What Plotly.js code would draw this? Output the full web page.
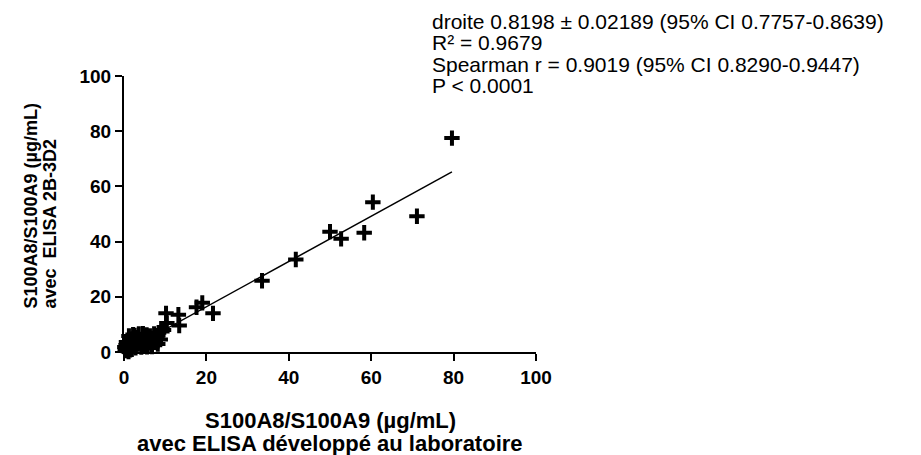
<!DOCTYPE html>
<html>
<head>
<meta charset="utf-8">
<script src="https://cdn.plot.ly/plotly-3.0.1.min.js"></script>
<style>html,body{margin:0;padding:0;background:#fff;}#chart{width:921px;height:455px;}</style>
</head>
<body>
<div id="chart"></div>
<script>
// Data (µg/mL)
const labX = [79.6, 71.1, 60.4, 50.0, 52.7, 58.3, 41.7, 33.5, 21.6, 19.0, 17.6, 13.2, 10.2, 10.4, 13.4,
  0.3,0.5,0.8,1.0,1.2,1.5,1.8,2.0,2.2,2.5,2.8,3.0,3.3,3.6,4.0,4.2,4.5,4.8,5.0,5.3,5.6,6.0,6.3,6.6,7.0,7.3,7.6,8.0,8.4,8.8,9.2,9.6,1.4,2.6,3.8,5.5,0.6,1.9,3.2,4.6,6.8,8.2,2.3,0.2,1.1];
const elisaY = [77.5, 49.2, 54.3, 43.6, 41.0, 43.2, 33.5, 25.8, 14.0, 17.8, 16.2, 13.5, 14.0, 10.5, 9.6,
  0.5,2.5,1.2,3.5,5.8,0.8,4.6,2.2,6.3,3.8,1.5,5.2,2.9,6.5,4.2,1.8,3.0,5.6,2.4,4.5,1.9,3.4,5.8,2.8,4.4,6.5,3.5,5.2,7.0,4.5,7.4,8.0,2.0,6.0,3.3,6.2,3.6,1.0,4.0,6.6,2.0,2.9,4.8,1.8,0.2];
const slope = 0.8198;
const intercept = 0.0;
const fitX = [0.0, 79.6];
const fitY = fitX.map(v => slope * v + intercept);
const tickVals = [0, 20, 40, 60, 80, 100];
const statLines = [
  "droite 0.8198 ± 0.02189 (95% CI 0.7757-0.8639)",
  "R² = 0.9679",
  "Spearman r = 0.9019 (95% CI 0.8290-0.9447)",
  "P < 0.0001"
];
const xTitleLines = ["S100A8/S100A9 (µg/mL)", "avec ELISA développé au laboratoire"];
const yTitleLines = ["S100A8/S100A9 (µg/mL)", "avec  ELISA 2B-3D2"];

const FONT = "Liberation Sans, Arial, sans-serif";

const traces = [
  {
    x: fitX, y: fitY, type: "scatter", mode: "lines",
    line: {color: "#000", width: 1.5}, hoverinfo: "skip", showlegend: false, cliponaxis: false
  },
  {
    x: labX, y: elisaY, type: "scatter", mode: "markers",
    marker: {symbol: "cross-thin-open", size: 11, color: "#000", line: {color: "#000", width: 4}},
    showlegend: false, cliponaxis: false
  }
];

// plot area in pixels: x 124..536, y 76..352
const L = 124, R = 536, T = 76, B = 352;
const px = v => (v - L) / (R - L);
const py = v => (B - v) / (B - T);

const annotations = [];
const statY = [21.5, 42.5, 64.5, 85.5];
statLines.forEach((t, i) => annotations.push({
  text: t, xref: "paper", yref: "paper", x: px(430), y: py(statY[i]),
  xanchor: "left", yanchor: "middle", showarrow: false,
  font: {family: FONT, size: 21, color: "#000"}
}));
const xtY = [420, 443];
xTitleLines.forEach((t, i) => annotations.push({
  text: "<b>" + t + "</b>", xref: "paper", yref: "paper", x: 0.5, y: py(xtY[i]),
  xanchor: "center", yanchor: "middle", showarrow: false,
  font: {family: FONT, size: 22, color: "#000"}
}));
const ytX = [30, 49];
yTitleLines.forEach((t, i) => annotations.push({
  text: "<b>" + t + "</b>", xref: "paper", yref: "paper", x: px(ytX[i]), y: py(311),
  xanchor: "center", yanchor: "bottom", textangle: -90, showarrow: false,
  font: {family: FONT, size: 18, color: "#000"}
}));

const axisCommon = {
  range: [0, 100], tickmode: "array", tickvals: tickVals, ticktext: tickVals.map(v => "<b>" + v + "</b>"),
  showline: true, linecolor: "#000", linewidth: 2, ticks: "outside", ticklen: 7, tickwidth: 2,
  tickcolor: "#000", showgrid: false, zeroline: false,
  tickfont: {family: FONT, size: 19, color: "#000"}
};

const layout = {
  width: 921, height: 455,
  margin: {l: L, r: 921 - R, t: T, b: 455 - B, pad: 0},
  paper_bgcolor: "#fff", plot_bgcolor: "#fff",
  xaxis: Object.assign({}, axisCommon),
  yaxis: Object.assign({}, axisCommon),
  annotations: annotations,
  showlegend: false
};

Plotly.newPlot("chart", traces, layout, {displayModeBar: false, staticPlot: true});
</script>
</body>
</html>
